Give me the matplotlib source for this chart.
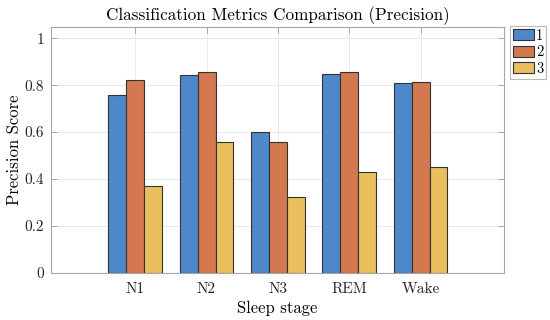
import numpy as np
import matplotlib.pyplot as plt

# Data
stages = ['N1', 'N2', 'N3', 'REM', 'Wake']
series_names = ['1', '2', '3']
prec_1 = [0.757, 0.842, 0.599, 0.847, 0.808]
prec_2 = [0.821, 0.857, 0.558, 0.855, 0.814]
prec_3 = [0.369, 0.559, 0.323, 0.428, 0.451]
y_ticks = [0, 0.2, 0.4, 0.6, 0.8, 1]
y_tick_labels = ['0', '0.2', '0.4', '0.6', '0.8', '1']

colors = ['#4F87CB', '#D3784F', '#E9BF5E']

plt.rcParams['font.family'] = ['cmr10', 'DejaVu Serif']
plt.rcParams['axes.formatter.use_mathtext'] = True

fig = plt.figure(figsize=(5.5, 3.2), dpi=100)
ax = fig.add_axes([51 / 550, 1 - 272.7 / 320, (504 - 51) / 550, (272.7 - 27) / 320])

x = np.arange(1, len(stages) + 1)
width = 0.252
for i, (vals, c, name) in enumerate(zip([prec_1, prec_2, prec_3], colors, series_names)):
    ax.bar(x + (i - 1) * width, vals, width, color=c, edgecolor='#333333',
           linewidth=0.8, label=name, zorder=3)

ax.set_xlim(-0.18, 6.17)
ax.set_ylim(0, 1.048)
ax.set_xticks(x)
ax.set_xticklabels(stages)
ax.set_yticks(y_ticks)
ax.set_yticklabels(y_tick_labels)

ax.grid(True, color='#E6E6E6', linewidth=0.6, zorder=0)
ax.tick_params(direction='in', top=True, right=True, length=4, width=0.6,
               color='#999999', labelcolor='#262626', labelsize=11)
ax.tick_params(axis='x', pad=7)
ax.tick_params(axis='y', pad=5)
for s in ax.spines.values():
    s.set_color('#A6A6A6')
    s.set_linewidth(0.8)

ax.set_title('Classification Metrics Comparison (Precision)', fontsize=12.3, pad=5)
ax.set_xlabel('Sleep stage', fontsize=12, labelpad=3)
ax.set_ylabel('Precision Score', fontsize=12, labelpad=2)

leg = ax.legend(loc='upper left', bbox_to_anchor=(1.013, 1.004), fontsize=10.5,
                handlelength=1.45, handleheight=0.8, handletextpad=0.15,
                borderpad=0.2, labelspacing=0.2, borderaxespad=0, fancybox=False)
leg.get_frame().set_edgecolor('#A6A6A6')
leg.get_frame().set_linewidth(0.8)

fig.savefig('out.png', dpi=100)
